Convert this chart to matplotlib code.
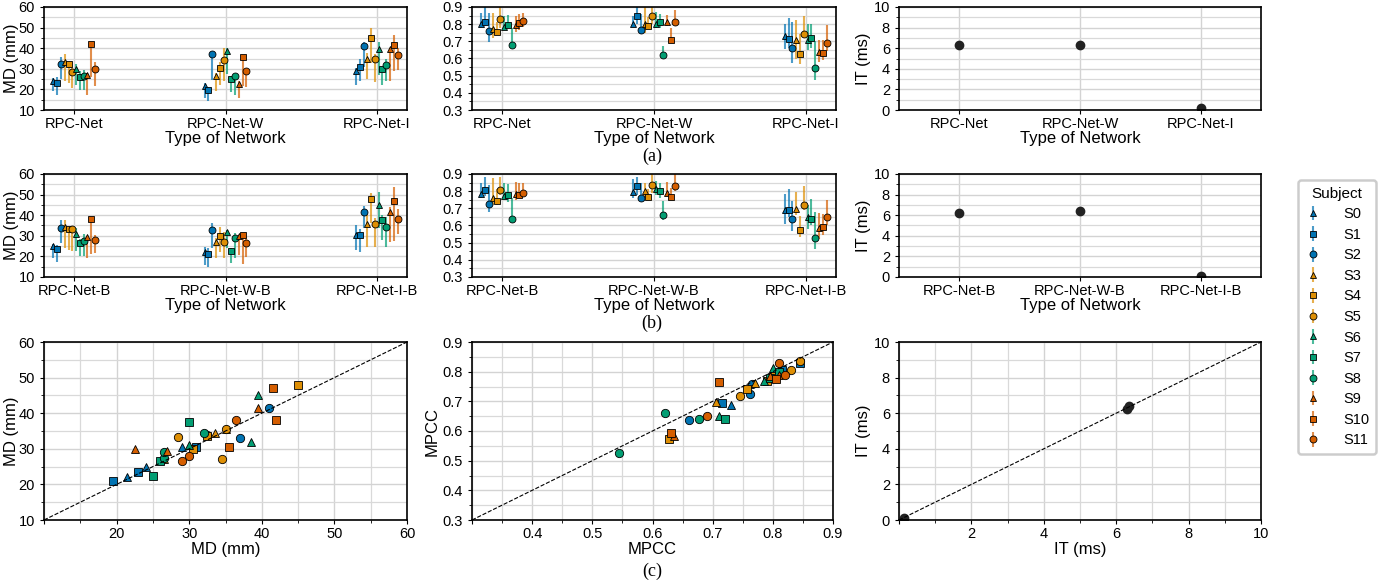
import numpy as np
import matplotlib.pyplot as plt
from matplotlib.colors import to_rgba
from matplotlib.ticker import MultipleLocator

plt.rcParams['font.family'] = ['Liberation Sans', 'DejaVu Sans']
plt.rcParams['font.size'] = 10

# ------------------- data -------------------
subjects = ['S%d' % i for i in range(12)]
colors = ['#0173b2'] * 3 + ['#de8f05'] * 3 + ['#029e73'] * 3 + ['#d55e00'] * 3
markers = ['^', 's', 'o'] * 4

nets_a = ['RPC-Net', 'RPC-Net-W', 'RPC-Net-I']
nets_b = ['RPC-Net-B', 'RPC-Net-W-B', 'RPC-Net-I-B']

# MD (mm): mean, lower, upper per network, one value per subject
md_a = [[24, 23, 32.5, 33.5, 32.5, 28.5, 30, 26, 26.5, 27, 42, 30],
        [21.5, 19.5, 37, 26.5, 30.5, 34.5, 38.5, 25, 26.5, 22.5, 35.5, 29],
        [29, 31, 41, 35, 45, 35, 39.5, 30, 32, 39.5, 41.5, 36.5]]
md_a_lo = [[19, 17.5, 25, 24, 23, 20.5, 22, 19.5, 19.5, 17.5, 26, 21.5],
           [16, 14.5, 24.5, 19, 22, 24, 27.5, 18.5, 17.5, 16, 21.5, 21],
           [22, 24, 31, 25, 33, 23.5, 27, 22, 24, 24, 29, 29.5]]
md_a_hi = [[25.5, 26, 35.5, 37, 33, 31, 32.5, 29, 29.5, 28, 43, 33.5],
           [23, 21, 37.5, 28, 33.5, 40, 40, 26.5, 27.5, 24, 36, 30],
           [30.5, 35, 43, 37.5, 50, 37, 43, 31, 35, 40, 46.5, 40]]

md_b = [[25, 23.5, 34, 34.5, 33.5, 33.3, 31, 26.5, 27.5, 29.5, 38, 28],
        [22, 21, 33, 27, 30, 27, 32, 22.5, 29, 30, 30.5, 26.5],
        [30.5, 30.5, 41.5, 35.5, 48, 35.5, 45, 37.5, 34.5, 41.5, 47, 38]]
md_b_lo = [[19, 17.5, 26.5, 24, 23, 22.5, 22.5, 20, 20, 19, 21, 21.5],
           [16, 15, 24, 19, 22, 19, 24, 17, 19, 20.5, 16.5, 19.5],
           [23, 22, 34, 24.5, 36, 24.5, 34, 28, 24.5, 27, 27.5, 31]]
md_b_hi = [[26, 25.5, 37.5, 37.5, 34, 34, 34, 28.5, 31, 30, 38.5, 30.5],
           [24.5, 24, 36, 29, 34.5, 32, 33, 24, 31.5, 30.5, 31, 29.5],
           [35, 33.5, 44.5, 40, 51, 38.5, 51.5, 40, 39, 44, 53.5, 43]]

# MPCC
mpcc_a = [[0.80, 0.815, 0.762, 0.77, 0.757, 0.83, 0.785, 0.795, 0.677, 0.795, 0.805, 0.82],
          [0.80, 0.845, 0.765, 0.80, 0.79, 0.845, 0.80, 0.81, 0.62, 0.81, 0.71, 0.81],
          [0.73, 0.715, 0.66, 0.705, 0.627, 0.745, 0.71, 0.72, 0.545, 0.635, 0.63, 0.69]]
mpcc_a_lo = [[0.795, 0.79, 0.695, 0.72, 0.735, 0.78, 0.78, 0.78, 0.675, 0.755, 0.765, 0.785],
             [0.79, 0.80, 0.74, 0.75, 0.77, 0.80, 0.78, 0.78, 0.62, 0.79, 0.71, 0.80],
             [0.655, 0.66, 0.575, 0.60, 0.57, 0.72, 0.65, 0.66, 0.475, 0.58, 0.59, 0.645]]
mpcc_a_hi = [[0.865, 0.90, 0.865, 0.865, 0.815, 0.90, 0.85, 0.855, 0.775, 0.85, 0.86, 0.865],
             [0.85, 0.90, 0.86, 0.90, 0.84, 0.90, 0.87, 0.86, 0.67, 0.855, 0.775, 0.885],
             [0.80, 0.835, 0.81, 0.825, 0.74, 0.85, 0.80, 0.80, 0.70, 0.71, 0.71, 0.795]]

mpcc_b = [[0.783, 0.805, 0.725, 0.762, 0.74, 0.805, 0.77, 0.78, 0.64, 0.785, 0.775, 0.79],
          [0.798, 0.828, 0.76, 0.80, 0.767, 0.837, 0.814, 0.80, 0.662, 0.79, 0.765, 0.83],
          [0.689, 0.693, 0.636, 0.697, 0.574, 0.719, 0.652, 0.64, 0.525, 0.583, 0.594, 0.65]]
mpcc_b_lo = [[0.76, 0.77, 0.68, 0.72, 0.72, 0.775, 0.77, 0.735, 0.64, 0.75, 0.76, 0.77],
             [0.76, 0.775, 0.74, 0.76, 0.75, 0.79, 0.78, 0.76, 0.63, 0.77, 0.75, 0.80],
             [0.61, 0.65, 0.57, 0.66, 0.535, 0.69, 0.58, 0.60, 0.465, 0.52, 0.545, 0.60]]
mpcc_b_hi = [[0.85, 0.885, 0.835, 0.875, 0.81, 0.885, 0.845, 0.84, 0.76, 0.855, 0.85, 0.85],
             [0.87, 0.88, 0.845, 0.85, 0.81, 0.90, 0.86, 0.85, 0.745, 0.855, 0.82, 0.90],
             [0.785, 0.81, 0.745, 0.795, 0.655, 0.83, 0.72, 0.755, 0.68, 0.67, 0.665, 0.75]]

# IT (ms), same for all subjects
it_a = [6.3, 6.35, 0.15]
it_b = [6.25, 6.4, 0.1]

# ------------------- figure -------------------
fig = plt.figure(figsize=(13.81, 5.82), dpi=100)
W, H = 1381, 582


def box(l, t, r, b):
    return [l / W, 1 - b / H, (r - l) / W, (b - t) / H]


def style(ax, ymaj, ymin, xminor=None):
    for s in ax.spines.values():
        s.set_linewidth(1.2)
    ax.yaxis.set_major_locator(MultipleLocator(ymaj))
    ax.yaxis.set_minor_locator(MultipleLocator(ymin))
    ax.tick_params(which='major', length=3, width=0.8, labelsize=10.5)
    ax.tick_params(axis='x', which='major', pad=2)
    ax.tick_params(which='minor', length=2, width=0.6)
    ax.grid(True, which='major', color='#d3d3d3', lw=1.0)
    ax.grid(True, which='minor', axis='y', color='#d9d9d9', lw=0.9)
    if xminor is not None:
        ax.xaxis.set_minor_locator(MultipleLocator(xminor))
        ax.grid(True, which='minor', axis='x', color='#d9d9d9', lw=0.9)
    ax.set_axisbelow(True)


offsets = (np.arange(12) - 5.5) * 0.025


def point_panel(ax, means, lows, highs, names):
    handles = []
    for i in range(12):
        x = np.arange(3) + offsets[i]
        y = np.array([m[i] for m in means])
        lo = np.array([m[i] for m in lows])
        hi = np.array([m[i] for m in highs])
        h = ax.errorbar(x, y, yerr=[y - lo, hi - y], fmt=markers[i], color=colors[i],
                        ecolor=to_rgba(colors[i], 0.7), elinewidth=1.5, ms=5,
                        mec='black', mew=0.6, label=subjects[i])
        handles.append(h)
    ax.set_xticks(range(3), names)
    ax.set_xlim(-0.2, 2.2)
    ax.set_xlabel('Type of Network', fontsize=12, labelpad=0)
    return handles


rows = [(7, 110, nets_a, md_a, md_a_lo, md_a_hi, mpcc_a, mpcc_a_lo, mpcc_a_hi, it_a),
        (174, 277, nets_b, md_b, md_b_lo, md_b_hi, mpcc_b, mpcc_b_lo, mpcc_b_hi, it_b)]

legend_handles = None
for top, bot, names, md, mdl, mdh, mp, mpl_, mph, it in rows:
    ax1 = fig.add_axes(box(44, top, 407, bot))
    hs = point_panel(ax1, md, mdl, mdh, names)
    if legend_handles is None:
        legend_handles = hs
    ax1.set_ylim(10, 60)
    style(ax1, 10, 5)
    ax1.set_ylabel('MD (mm)', fontsize=12, labelpad=0)

    ax2 = fig.add_axes(box(472, top, 836, bot))
    point_panel(ax2, mp, mpl_, mph, names)
    ax2.set_ylim(0.3, 0.9)
    style(ax2, 0.1, 0.05)

    ax3 = fig.add_axes(box(899, top, 1261, bot))
    ax3.plot(range(3), it, 'o', color='#222222', ms=6, ls='none')
    ax3.set_xticks(range(3), names)
    ax3.set_xlim(-0.5, 2.5)
    ax3.set_ylim(0, 10)
    ax3.set_xlabel('Type of Network', fontsize=12, labelpad=0)
    ax3.set_ylabel('IT (ms)', fontsize=12, labelpad=2)
    style(ax3, 2, 1)

# ------------------- row (c): scatter a vs b -------------------
axc1 = fig.add_axes(box(44, 342, 407, 520))
axc2 = fig.add_axes(box(472, 342, 833, 520))
axc3 = fig.add_axes(box(899, 342, 1261, 520))

for ax, xa, yb in [(axc1, md_a, md_b), (axc2, mpcc_a, mpcc_b)]:
    for i in range(12):
        ax.plot([m[i] for m in xa], [m[i] for m in yb], markers[i], color=colors[i],
                ms=6, mec='black', mew=0.6, ls='none')

axc1.plot([10, 60], [10, 60], '--', color='black', lw=0.8)
axc1.set_xlim(10, 60)
axc1.set_ylim(10, 60)
style(axc1, 10, 5, xminor=5)
axc1.set_xticks(range(10, 61, 10), [''] + [str(v) for v in range(20, 61, 10)])
axc1.set_xlabel('MD (mm)', fontsize=12, labelpad=1)
axc1.set_ylabel('MD (mm)', fontsize=12, labelpad=0)

axc2.plot([0.3, 0.9], [0.3, 0.9], '--', color='black', lw=0.8)
axc2.set_xlim(0.3, 0.9)
axc2.set_ylim(0.3, 0.9)
style(axc2, 0.1, 0.05, xminor=0.05)
axc2.set_xticks(np.arange(0.3, 0.91, 0.1), [''] + ['%.1f' % v for v in np.arange(0.4, 0.91, 0.1)])
axc2.set_xlabel('MPCC', fontsize=12, labelpad=1)
axc2.set_ylabel('MPCC', fontsize=12, labelpad=2)

axc3.plot(it_a, it_b, 'o', color='#222222', ms=6, ls='none')
axc3.plot([0, 10], [0, 10], '--', color='black', lw=0.8)
axc3.set_xlim(0, 10)
axc3.set_ylim(0, 10)
style(axc3, 2, 1, xminor=1)
axc3.set_xticks(range(0, 11, 2), [''] + [str(v) for v in range(2, 11, 2)])
axc3.set_xlabel('IT (ms)', fontsize=12, labelpad=1)
axc3.set_ylabel('IT (ms)', fontsize=12, labelpad=2)

# panel labels
for lab, y in [('(a)', 156), ('(b)', 323), ('(c)', 571)]:
    fig.text(652 / W, 1 - y / H, lab, ha='center', va='center',
             fontsize=13, family='Liberation Serif')

leg = fig.legend(legend_handles, subjects, title='Subject', loc='center',
                 bbox_to_anchor=(1337 / W, 1 - 317 / H), fontsize=10.5,
                 title_fontsize=11, frameon=True, fancybox=True,
                 labelspacing=0.45, handlelength=1.2, handletextpad=1.5,
                 borderpad=0.45)
leg.get_frame().set_edgecolor('#c0c0c0')
leg.get_frame().set_linewidth(1.8)

fig.savefig('out.png', dpi=100)
